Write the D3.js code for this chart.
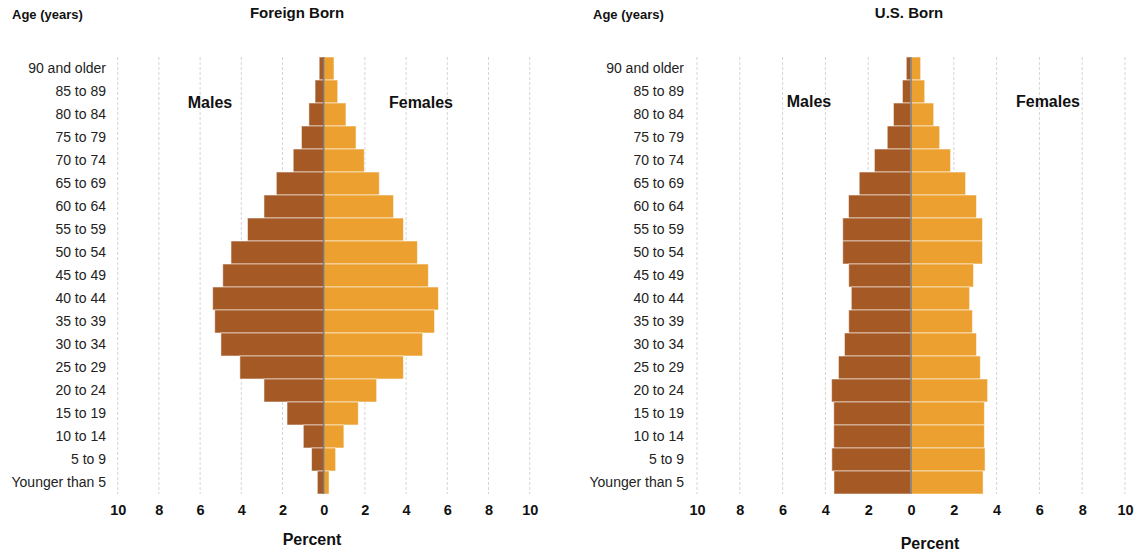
<!DOCTYPE html>
<html>
<head>
<meta charset="utf-8">
<script src="https://cdn.jsdelivr.net/npm/d3@7"></script>
<style>
  body { margin: 0; background: #fff; }
  svg text { font-family: "Liberation Sans", Arial, sans-serif; }
  .grid line { stroke: #d4d4d4; stroke-dasharray: 3,2; }
</style>
</head>
<body>
<div id="chart"></div>
<script>
var WIDTH = 1137, HEIGHT = 554;

// age groups, top to bottom
var ages = ["90 and older", "85 to 89", "80 to 84", "75 to 79", "70 to 74",
  "65 to 69", "60 to 64", "55 to 59", "50 to 54", "45 to 49", "40 to 44",
  "35 to 39", "30 to 34", "25 to 29", "20 to 24", "15 to 19", "10 to 14",
  "5 to 9", "Younger than 5"];

// percent of population, same order as ages
var foreignMales   = [0.22, 0.42, 0.72, 1.08, 1.48, 2.30, 2.90, 3.70, 4.50, 4.90, 5.39, 5.29, 4.99, 4.07, 2.90, 1.78, 0.99, 0.59, 0.31];
var foreignFemales = [0.50, 0.68, 1.08, 1.57, 1.97, 2.70, 3.39, 3.87, 4.55, 5.08, 5.57, 5.38, 4.80, 3.87, 2.57, 1.68, 0.98, 0.58, 0.26];
var usMales        = [0.22, 0.40, 0.82, 1.11, 1.71, 2.42, 2.92, 3.19, 3.19, 2.91, 2.79, 2.91, 3.11, 3.39, 3.71, 3.61, 3.61, 3.70, 3.60];
var usFemales      = [0.45, 0.64, 1.06, 1.34, 1.85, 2.55, 3.06, 3.34, 3.34, 2.92, 2.74, 2.87, 3.06, 3.24, 3.58, 3.43, 3.43, 3.46, 3.37];

var tickValues = [-10, -8, -6, -4, -2, 0, 2, 4, 6, 8, 10];

var MALE_COLOR = "#a55a26";
var FEMALE_COLOR = "#eba030";

var svg = d3.select("#chart").append("svg")
  .attr("width", WIDTH)
  .attr("height", HEIGHT);

var y = d3.scaleBand()
  .domain(ages)
  .range([57, 494])
  .padding(0);

function drawPyramid(cfg) {
  var x = d3.scaleLinear().domain([-10, 10]).range(cfg.range);
  var g = svg.append("g");

  // dashed vertical gridlines
  g.append("g").attr("class", "grid")
    .selectAll("line")
    .data(tickValues.filter(function(d) { return d !== 0; }))
    .join("line")
    .attr("x1", function(d) { return x(d); })
    .attr("x2", function(d) { return x(d); })
    .attr("y1", y.range()[0])
    .attr("y2", y.range()[1]);

  var rows = ages.map(function(a, i) {
    return { age: a, m: cfg.males[i], f: cfg.females[i] };
  });

  g.append("g").selectAll("rect")
    .data(rows)
    .join("rect")
    .attr("x", function(d) { return x(-d.m); })
    .attr("y", function(d) { return y(d.age); })
    .attr("width", function(d) { return x(0) - x(-d.m); })
    .attr("height", y.bandwidth())
    .attr("fill", MALE_COLOR)
    .attr("stroke", "rgba(255,255,255,0.55)")
    .attr("stroke-width", 1);

  g.append("g").selectAll("rect")
    .data(rows)
    .join("rect")
    .attr("x", x(0))
    .attr("y", function(d) { return y(d.age); })
    .attr("width", function(d) { return x(d.f) - x(0); })
    .attr("height", y.bandwidth())
    .attr("fill", FEMALE_COLOR)
    .attr("stroke", "rgba(255,255,255,0.55)")
    .attr("stroke-width", 1);

  // center line
  g.append("line")
    .attr("x1", x(0)).attr("x2", x(0))
    .attr("y1", y.range()[0]).attr("y2", y.range()[1])
    .attr("stroke", "#7a7a7a")
    .attr("stroke-width", 1.5);

  // age labels
  var yAxis = g.append("g")
    .attr("transform", "translate(" + cfg.labelX + ",0)")
    .call(d3.axisLeft(y).tickSize(0).tickPadding(0));
  yAxis.select(".domain").remove();
  yAxis.selectAll("text")
    .attr("font-size", "14px")
    .attr("fill", "#222")
    .attr("dy", "0.35em")
    .style("font-family", "'Liberation Sans', Arial, sans-serif");

  // percent axis
  var xAxis = g.append("g")
    .attr("transform", "translate(0," + y.range()[1] + ")")
    .call(d3.axisBottom(x).tickValues(tickValues).tickSize(0).tickPadding(11)
      .tickFormat(function(d) { return Math.abs(d); }));
  xAxis.select(".domain").remove();
  xAxis.selectAll("text")
    .attr("font-size", "14.5px")
    .attr("font-weight", "bold")
    .attr("fill", "#111")
    .style("font-family", "'Liberation Sans', Arial, sans-serif");

  g.append("text")
    .attr("x", cfg.percentX).attr("y", cfg.percentY)
    .attr("text-anchor", "middle")
    .attr("font-size", "16px").attr("font-weight", "bold").attr("fill", "#111")
    .text("Percent");

  g.append("text")
    .attr("x", cfg.titleX).attr("y", 18)
    .attr("text-anchor", "middle")
    .attr("font-size", "15px").attr("font-weight", "bold").attr("fill", "#111")
    .text(cfg.title);

  g.append("text")
    .attr("x", cfg.ageX).attr("y", 19)
    .attr("font-size", "13px").attr("font-weight", "bold").attr("fill", "#111")
    .text("Age (years)");

  g.append("text")
    .attr("x", cfg.malesX).attr("y", cfg.sexY)
    .attr("text-anchor", "middle")
    .attr("font-size", "16px").attr("font-weight", "bold").attr("fill", "#111")
    .text("Males");

  g.append("text")
    .attr("x", cfg.femalesX).attr("y", cfg.sexY)
    .attr("text-anchor", "middle")
    .attr("font-size", "16px").attr("font-weight", "bold").attr("fill", "#111")
    .text("Females");
}

drawPyramid({
  title: "Foreign Born",
  males: foreignMales,
  females: foreignFemales,
  range: [117.7, 529.7],
  labelX: 106,
  titleX: 297,
  ageX: 12,
  percentX: 312,
  percentY: 545,
  malesX: 210,
  femalesX: 421,
  sexY: 108
});

drawPyramid({
  title: "U.S. Born",
  males: usMales,
  females: usFemales,
  range: [697, 1125],
  labelX: 684,
  titleX: 909,
  ageX: 593,
  percentX: 930,
  percentY: 549,
  malesX: 809,
  femalesX: 1048,
  sexY: 107
});
</script>
</body>
</html>
